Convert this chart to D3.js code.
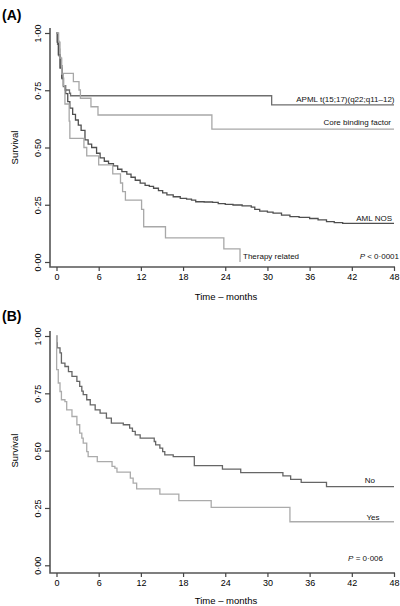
<!DOCTYPE html>
<html><head><meta charset="utf-8">
<script src="https://cdn.jsdelivr.net/npm/d3@7"></script>
<style>
html,body{margin:0;padding:0;background:#fff;}
text{font-family:"Liberation Sans",Arial,sans-serif;}
</style></head>
<body>
<svg id="c" width="400" height="606"></svg>
<script>
// ---------- DATA ----------
const xTicks = [0, 6, 12, 18, 24, 30, 36, 42, 48];
const yTicks = [0, 0.25, 0.5, 0.75, 1];
const xTitle = "Time \u2013 months";
const yTitle = "Survival";

// Panel A: Kaplan–Meier steps [time (months), survival]
const apmlTimes = [0, 0.15, 0.35, 0.55, 0.8, 0.97, 1.2, 1.85, 2.0, 30.6, 48];
const apmlSurv  = [1, 0.95, 0.9, 0.85, 0.8, 0.766, 0.751, 0.737, 0.726, 0.686, 0.686];

const cbfTimes = [0, 0.2, 0.36, 0.5, 0.64, 0.83, 2.4, 3.2, 3.4, 4.9, 5.9, 22.1, 48];
const cbfSurv  = [1, 0.964, 0.93, 0.893, 0.857, 0.824, 0.788, 0.751, 0.715, 0.678, 0.642, 0.58, 0.58];

const nosTimes = [0, 0.1, 0.26, 0.5, 0.74, 1.0, 1.3, 1.6, 1.9, 2.3, 2.7, 3.1, 3.5, 4.05, 4.5, 5.0, 5.7, 6.2, 6.8, 7.4, 8.1, 8.7, 9.3, 10.0, 10.6, 11.2, 11.9, 12.6, 13.2, 13.8, 14.5, 15.1, 15.7, 16.6, 17.6, 18.5, 19.2, 19.8, 21.0, 22.2, 23.0, 24.0, 25.1, 26.4, 27.7, 28.2, 28.9, 30.0, 30.8, 32.0, 33.2, 34.5, 36.0, 37.2, 38.4, 39.5, 40.7, 48];
const nosSurv  = [1, 0.96, 0.905, 0.847, 0.803, 0.77, 0.735, 0.70, 0.672, 0.645, 0.62, 0.598, 0.575, 0.533, 0.515, 0.50, 0.475, 0.455, 0.44, 0.43, 0.42, 0.405, 0.395, 0.384, 0.37, 0.357, 0.344, 0.335, 0.33, 0.322, 0.312, 0.302, 0.293, 0.285, 0.278, 0.275, 0.27, 0.263, 0.262, 0.26, 0.255, 0.252, 0.249, 0.245, 0.24, 0.23, 0.222, 0.218, 0.213, 0.205, 0.198, 0.195, 0.19, 0.184, 0.176, 0.172, 0.169, 0.169];

const therTimes = [0, 0.3, 0.5, 0.74, 0.97, 1.2, 1.8, 1.9, 3.9, 4.3, 6.0, 8.0, 9.1, 9.4, 9.8, 12.1, 12.4, 15.5, 23.8, 26.1];
const therSurv  = [1, 0.96, 0.89, 0.82, 0.77, 0.69, 0.615, 0.54, 0.50, 0.463, 0.424, 0.385, 0.345, 0.307, 0.27, 0.23, 0.154, 0.105, 0.057, 0];

// Panel B
const noTimes = [0, 0.05, 0.1, 0.5, 0.7, 1.2, 1.7, 2.2, 2.9, 3.3, 3.6, 3.8, 4.3, 4.8, 5.5, 6.2, 7.1, 7.8, 9.5, 10.4, 10.8, 11.2, 11.9, 13.9, 14.1, 14.7, 15.1, 15.4, 16.6, 19.6, 23.6, 26.2, 32.2, 33.3, 34.8, 38.4, 48];
const noSurv  = [1, 0.97, 0.948, 0.926, 0.882, 0.867, 0.845, 0.824, 0.802, 0.78, 0.76, 0.744, 0.722, 0.70, 0.678, 0.664, 0.642, 0.62, 0.613, 0.598, 0.584, 0.569, 0.555, 0.54, 0.525, 0.511, 0.496, 0.482, 0.474, 0.435, 0.419, 0.404, 0.39, 0.375, 0.362, 0.343, 0.343];

const yesTimes = [0, 0.02, 0.25, 0.5, 0.7, 1.2, 1.45, 2.2, 2.9, 3.3, 3.6, 3.8, 4.3, 4.5, 5.8, 7.9, 8.3, 8.6, 10.5, 10.9, 11.4, 14.7, 17.4, 22.0, 33.2, 48];
const yesSurv  = [1, 0.853, 0.795, 0.758, 0.722, 0.714, 0.678, 0.649, 0.613, 0.576, 0.555, 0.533, 0.496, 0.474, 0.452, 0.431, 0.424, 0.406, 0.38, 0.358, 0.333, 0.31, 0.282, 0.253, 0.19, 0.19];

const panelA = {
  label: "(A)",
  pText: ["P", " < 0\u00b70001"],
  series: [
    {name: "APML t(15;17)(q22;q11\u201312)", t: apmlTimes, s: apmlSurv, color: "#6e6e6e"},
    {name: "Core binding factor", t: cbfTimes, s: cbfSurv, color: "#a8a8a8"},
    {name: "AML NOS", t: nosTimes, s: nosSurv, color: "#4f4f4f"},
    {name: "Therapy related", t: therTimes, s: therSurv, color: "#a8a8a8"}
  ]
};
const panelB = {
  label: "(B)",
  pText: ["P", " = 0\u00b7006"],
  series: [
    {name: "No", t: noTimes, s: noSurv, color: "#666666"},
    {name: "Yes", t: yesTimes, s: yesSurv, color: "#ababab"}
  ]
};

// ---------- DRAW ----------
const svg = d3.select("#c");
const fmt = d => d3.format(".2f")(d).replace(".", "\u00b7");

function drawPanel(p, top, bottom, axisY, labelY, titleOff, labels) {
  const x = d3.scaleLinear().domain([0, 48]).range([56.5, 394]);
  const y = d3.scaleLinear().domain([0, 1]).range([bottom, top]);
  const g = svg.append("g");
  const axisX = 50;

  // panel label
  g.append("text").attr("x", 2).attr("y", labelY).attr("font-size", 14)
    .attr("font-weight", "bold").text(p.label);

  // L-shaped frame
  g.append("path")
    .attr("d", d3.line()([[axisX, y(1) - 5], [axisX, axisY], [x(48) + 1, axisY]]))
    .attr("fill", "none").attr("stroke", "#555").attr("stroke-width", 1.6);

  // x axis ticks and labels
  const xa = d3.axisBottom(x).tickValues(xTicks).tickSize(4).tickSizeOuter(0).tickPadding(3);
  const gx = g.append("g").attr("transform", `translate(0,${axisY})`).call(xa);
  gx.select(".domain").remove();
  gx.selectAll(".tick line").attr("stroke", "#444").attr("stroke-width", 1.2);
  gx.selectAll(".tick text").attr("font-size", 9).attr("fill", "#000")
    .attr("font-family", "Liberation Sans, Arial, sans-serif");

  // y axis ticks and rotated labels
  const ya = d3.axisLeft(y).tickValues(yTicks).tickSize(5).tickSizeOuter(0).tickFormat(fmt);
  const gy = g.append("g").attr("transform", `translate(${axisX},0)`).call(ya);
  gy.select(".domain").remove();
  gy.selectAll(".tick line").attr("stroke", "#444").attr("stroke-width", 1.2);
  gy.selectAll(".tick text").attr("font-size", 9).attr("fill", "#000")
    .attr("font-family", "Liberation Sans, Arial, sans-serif")
    .attr("x", null).attr("dy", null)
    .attr("text-anchor", "middle")
    .attr("transform", "translate(-12,0) rotate(-90)")
    .attr("dy", "0.35em");

  // axis titles
  g.append("text").attr("x", 226).attr("y", axisY + titleOff).attr("text-anchor", "middle")
    .attr("font-size", 9.5).text(xTitle);
  g.append("text").attr("transform", `translate(18,${y(0.5)}) rotate(-90)`)
    .attr("text-anchor", "middle").attr("font-size", 9.5).text(yTitle);

  // curves
  const line = d3.line().x(d => x(d[0])).y(d => y(d[1])).curve(d3.curveStepAfter);
  p.series.forEach(s => {
    const pts = s.t.map((t, i) => [t, s.s[i]]);
    g.append("path").attr("d", line(pts)).attr("fill", "none")
      .attr("stroke", s.color).attr("stroke-width", 1.3);
  });

  // series labels
  labels.forEach((lb, i) => {
    const s = p.series[i];
    const last = s.s[s.s.length - 1];
    const lastT = s.t[s.t.length - 1];
    const t = g.append("text").attr("font-size", 8).attr("fill", "#111").text(s.name);
    if (lb.left) {
      t.attr("x", x(lastT) + 3).attr("y", y(lb.v)).attr("text-anchor", "start");
    } else {
      t.attr("x", x(48) + lb.dx).attr("y", y(last) - lb.dy).attr("text-anchor", "end");
    }
  });

  // p-value
  const pt = g.append("text").attr("font-size", 8).attr("fill", "#111")
    .attr("text-anchor", "end").attr("x", x(48) + p.pdx).attr("y", y(0) + p.pdy);
  pt.append("tspan").attr("font-style", "italic").text(p.pText[0]);
  pt.append("tspan").text(p.pText[1]);
}

panelA.pdx = 5; panelA.pdy = -3;
panelB.pdx = -11; panelB.pdy = -4.5;

drawPanel(panelA, 33, 262, 267, 20, 32.5, [
  {dx: 0.5, dy: 3},
  {dx: -3, dy: 4.5},
  {dx: -2, dy: 2.5},
  {left: true, v: 0.013}
]);
drawPanel(panelB, 336, 565.3, 573, 321, 30.5, [
  {dx: -19, dy: 3.5},
  {dx: -14.5, dy: 2.2}
]);
</script>
</body></html>
